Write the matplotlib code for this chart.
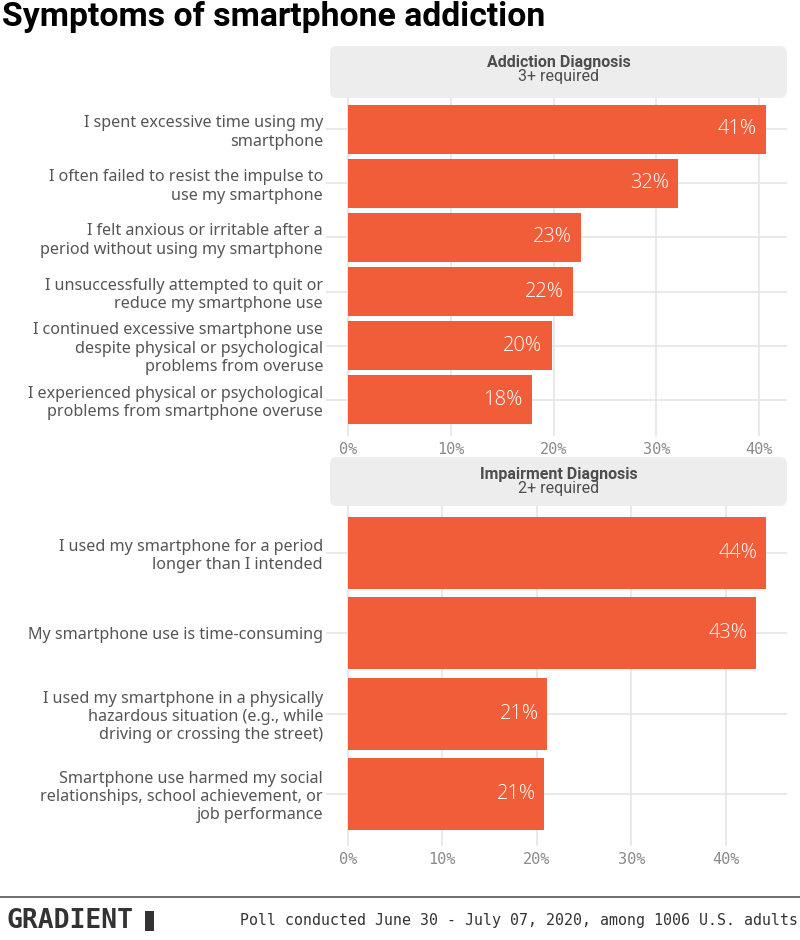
import matplotlib
matplotlib.use("Agg")
import matplotlib.pyplot as plt
from matplotlib.patches import FancyBboxPatch
from matplotlib.lines import Line2D

# ---- data ----
addiction_labels = [
    "I spent excessive time using my\nsmartphone",
    "I often failed to resist the impulse to\nuse my smartphone",
    "I felt anxious or irritable after a\nperiod without using my smartphone",
    "I unsuccessfully attempted to quit or\nreduce my smartphone use",
    "I continued excessive smartphone use\ndespite physical or psychological\nproblems from overuse",
    "I experienced physical or psychological\nproblems from smartphone overuse",
]
addiction_values = [40.7, 32.1, 22.7, 21.9, 19.8, 17.9]
addiction_text = ["41%", "32%", "23%", "22%", "20%", "18%"]

impair_labels = [
    "I used my smartphone for a period\nlonger than I intended",
    "My smartphone use is time-consuming",
    "I used my smartphone in a physically\nhazardous situation (e.g., while\ndriving or crossing the street)",
    "Smartphone use harmed my social\nrelationships, school achievement, or\njob performance",
]
impair_values = [44.3, 43.2, 21.1, 20.8]
impair_text = ["44%", "43%", "21%", "21%"]

x_ticks = [0, 10, 20, 30, 40]
x_ticklabels = ["0%", "10%", "20%", "30%", "40%"]

strip_titles = [("Addiction Diagnosis", "3+ required"), ("Impairment Diagnosis", "2+ required")]

BAR = "#F05D38"
GRID = "#e3e3e3"
LABEL = "#555555"
TICK = "#8a8a8a"
W, H = 800, 940

fig = plt.figure(figsize=(8, 9.4), dpi=100)
fig.patch.set_facecolor("white")

def fx(px):
    return px / W

def fy(py):
    return 1 - py / H

panels = [
    dict(labels=addiction_labels, values=addiction_values, text=addiction_text,
         top=97, bottom=432, xlim=(-1.75, 42.7), strip=(47, 97), title=strip_titles[0]),
    dict(labels=impair_labels, values=impair_values, text=impair_text,
         top=505, bottom=842, xlim=(-1.9, 46.5), strip=(458, 505), title=strip_titles[1]),
]

left_px, right_px = 330, 787

for p in panels:
    ax = fig.add_axes([fx(left_px), fy(p["bottom"]), fx(right_px - left_px),
                       (p["bottom"] - p["top"]) / H])
    n = len(p["values"])
    ypos = list(range(n, 0, -1))
    ax.set_xlim(*p["xlim"])
    ax.set_ylim(0.4, n + 0.6)
    for s in ax.spines.values():
        s.set_visible(False)
    ax.set_axisbelow(True)
    ax.grid(True, axis="both", color=GRID, linewidth=1.1)
    ax.barh(ypos, p["values"], height=0.9, color=BAR, edgecolor="none")
    for y, v, t in zip(ypos, p["values"], p["text"]):
        ax.text(v - 0.9, y, t, ha="right", va="center", color="white",
                fontsize=14.5, family="Open Sans", weight="light")
    ax.set_yticks(ypos)
    ax.set_yticklabels(p["labels"], fontsize=11.6, color=LABEL, family="Noto Sans",
                       linespacing=1.18)
    ax.set_xticks(x_ticks)
    ax.set_xticklabels(x_ticklabels, fontsize=11, color=TICK, family="DejaVu Sans Mono")
    ax.tick_params(axis="both", length=3, color=GRID, width=1.1)
    ax.tick_params(axis="y", pad=2)
    ax.tick_params(axis="x", pad=4)

    # strip
    s_top, s_bot = p["strip"]
    box = FancyBboxPatch((fx(left_px) + 0.004, fy(s_bot) + 0.003),
                         fx(right_px - left_px) - 0.008, (s_bot - s_top) / H - 0.006,
                         boxstyle="round,pad=0.004,rounding_size=0.008",
                         transform=fig.transFigure, facecolor="#ededed", edgecolor="none")
    fig.add_artist(box)
    cx = fx((left_px + right_px) / 2)
    fig.text(cx, fy(s_top + 16), p["title"][0], ha="center", va="center",
             fontsize=11.5, weight="bold", color="#4d4d4d", family="Roboto")
    fig.text(cx, fy(s_top + 30), p["title"][1], ha="center", va="center",
             fontsize=11.5, color="#4d4d4d", family="Roboto")

# title
fig.text(fx(2), fy(17), "Symptoms of smartphone addiction", ha="left", va="center",
         fontsize=24.3, weight="bold", color="black", family="Roboto")

# footer rule
fig.add_artist(Line2D([0, 1], [fy(897), fy(897)], transform=fig.transFigure,
                      color="#555555", linewidth=1.2))
fig.text(fx(6), fy(921), "GRADIENT", ha="left", va="center", fontsize=19,
         weight="bold", color="#333333", family="DejaVu Sans Mono")
fig.patches.append(plt.Rectangle((fx(145), fy(931)), fx(9), 20 / H,
                                 transform=fig.transFigure, facecolor="#333333",
                                 edgecolor="none"))
fig.text(fx(798), fy(921), "Poll conducted June 30 - July 07, 2020, among 1006 U.S. adults",
         ha="right", va="center", fontsize=10.7, color="#333333", family="DejaVu Sans Mono")

fig.savefig("out.png", dpi=100, facecolor="white")
